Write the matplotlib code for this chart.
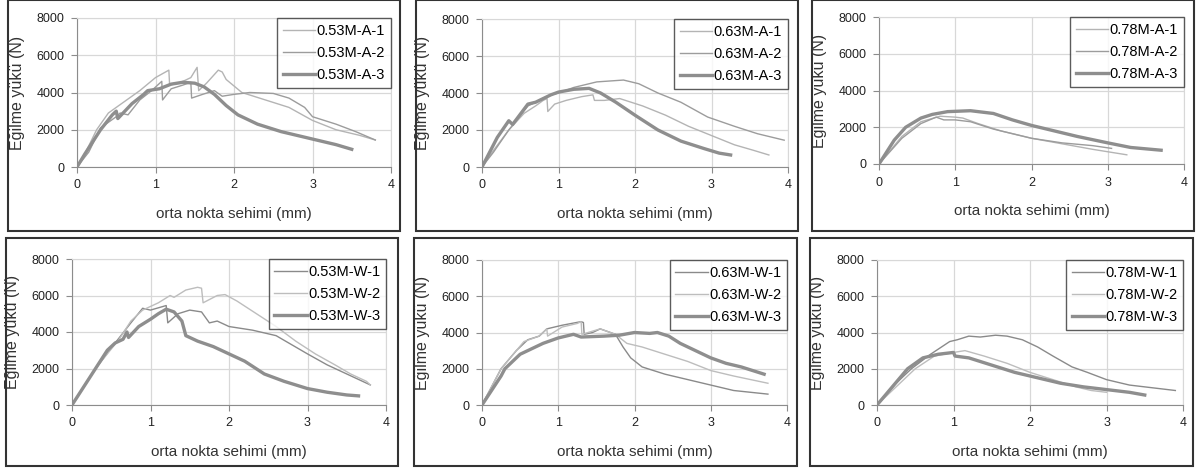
import matplotlib.pyplot as plt
from matplotlib.patches import Rectangle

plt.rcParams['font.family'] = ['Liberation Sans', 'DejaVu Sans']

W, H = 1197, 474

# --- 0.53M-A ---
a53_1_d = [0, 0.1, 0.25, 0.4, 0.6, 0.8, 1.0, 1.17, 1.18, 1.3, 1.45, 1.53, 1.55, 1.65, 1.8, 1.85, 1.9, 2.1, 2.4, 2.7, 3.0, 3.3, 3.6, 3.8]
a53_1_p = [0, 700, 2000, 2900, 3500, 4100, 4800, 5200, 4400, 4500, 4800, 5350, 4100, 4500, 5200, 5100, 4700, 4000, 3600, 3200, 2500, 2000, 1700, 1450]
a53_2_d = [0, 0.15, 0.3, 0.5, 0.55, 0.65, 0.8, 0.95, 1.08, 1.09, 1.2, 1.35, 1.45, 1.46, 1.6, 1.75, 1.85, 2.0, 2.2, 2.5, 2.7, 2.9, 3.0, 3.3, 3.55, 3.8]
a53_2_p = [0, 800, 2100, 2700, 2900, 2800, 3600, 4100, 4600, 3600, 4200, 4400, 4550, 3700, 3900, 4100, 3800, 3900, 4000, 3950, 3700, 3200, 2700, 2300, 1900, 1450]
a53_3_d = [0, 0.1, 0.3, 0.45, 0.5, 0.52, 0.7, 0.85, 0.9, 1.05, 1.2, 1.35, 1.5, 1.62, 1.75, 1.9, 2.05, 2.3, 2.6, 2.9, 3.1, 3.3, 3.5]
a53_3_p = [0, 700, 2000, 2800, 3000, 2600, 3400, 3900, 4100, 4200, 4450, 4550, 4500, 4300, 3900, 3300, 2800, 2300, 1900, 1600, 1400, 1200, 950]

# --- 0.63M-A ---
a63_1_d = [0, 0.15, 0.35, 0.55, 0.7, 0.8, 0.85, 0.86, 0.95, 1.1, 1.3, 1.45, 1.47, 1.6, 1.8, 2.1, 2.4, 2.7, 3.0, 3.3, 3.55, 3.75]
a63_1_p = [0, 900, 2000, 2900, 3300, 3600, 3700, 3000, 3400, 3600, 3800, 3900, 3600, 3600, 3700, 3300, 2800, 2200, 1700, 1200, 900, 650]
a63_2_d = [0, 0.15, 0.35, 0.6, 0.9, 1.0, 1.2, 1.5, 1.85, 2.05, 2.3, 2.6, 2.95, 3.3, 3.6, 3.95]
a63_2_p = [0, 800, 2000, 3300, 3900, 4000, 4300, 4600, 4700, 4500, 4000, 3500, 2700, 2200, 1800, 1450]
a63_3_d = [0, 0.2, 0.35, 0.4, 0.6, 0.7, 0.9, 1.0, 1.2, 1.4, 1.55, 1.75, 2.0, 2.3, 2.6, 2.9, 3.1, 3.25]
a63_3_p = [0, 1600, 2500, 2300, 3400, 3500, 3900, 4050, 4200, 4250, 4000, 3500, 2800, 2000, 1400, 1000, 750, 650]

# --- 0.78M-A ---
a78_1_d = [0, 0.3, 0.55, 0.8, 1.0, 1.1, 1.3, 1.6, 2.0, 2.4, 2.8, 3.1, 3.25]
a78_1_p = [0, 1500, 2300, 2600, 2550, 2500, 2200, 1800, 1400, 1100, 800, 600, 500]
a78_2_d = [0, 0.3, 0.55, 0.75, 0.85, 1.0, 1.2, 1.5, 2.0, 2.4, 2.8, 3.05]
a78_2_p = [0, 1400, 2200, 2550, 2400, 2400, 2300, 1900, 1400, 1150, 1000, 850]
a78_3_d = [0, 0.2, 0.35, 0.55, 0.7, 0.9, 1.2, 1.5, 1.75, 2.0, 2.3, 2.6, 3.0, 3.3, 3.7]
a78_3_p = [0, 1300, 2000, 2500, 2700, 2850, 2900, 2750, 2400, 2100, 1800, 1500, 1150, 900, 750]

# --- 0.53M-W ---
w53_1_d = [0, 0.3, 0.55, 0.75, 0.9, 1.0, 1.2, 1.22, 1.35, 1.5, 1.65, 1.75, 1.85, 2.0, 2.3, 2.6, 2.8, 3.0, 3.25, 3.5, 3.7, 3.8]
w53_1_p = [0, 2000, 3400, 4500, 5300, 5200, 5450, 4500, 5000, 5200, 5100, 4500, 4600, 4300, 4100, 3800, 3300, 2800, 2200, 1700, 1300, 1100]
w53_2_d = [0, 0.3, 0.6, 0.75, 0.9, 1.1, 1.25, 1.3, 1.45, 1.6, 1.65, 1.67, 1.85, 1.95, 2.1, 2.35, 2.6, 2.85, 3.1, 3.35, 3.55, 3.75, 3.8]
w53_2_p = [0, 2000, 3600, 4600, 5200, 5600, 6000, 5900, 6300, 6450, 6400, 5600, 6000, 6050, 5700, 5000, 4300, 3500, 2800, 2200, 1700, 1300, 1100]
w53_3_d = [0, 0.15, 0.3, 0.45, 0.55, 0.65, 0.7, 0.72, 0.85, 1.0, 1.1, 1.2, 1.3, 1.4, 1.45, 1.6, 1.8, 2.0, 2.2, 2.45, 2.7, 3.0, 3.25, 3.5, 3.65]
w53_3_p = [0, 1000, 2000, 3000, 3400, 3600, 4000, 3700, 4300, 4700, 5000, 5250, 5100, 4600, 3800, 3500, 3200, 2800, 2400, 1700, 1300, 900, 700, 550, 500]

# --- 0.63M-W ---
w63_1_d = [0, 0.25, 0.45, 0.6, 0.75, 0.85, 1.05, 1.3, 1.33, 1.34, 1.45, 1.55, 1.75, 1.85, 1.95, 2.1, 2.4, 2.7, 3.0, 3.3, 3.75]
w63_1_p = [0, 2000, 3000, 3600, 3800, 4200, 4400, 4600, 4550, 3900, 4000, 4200, 3900, 3200, 2600, 2100, 1700, 1400, 1100, 800, 600]
w63_2_d = [0, 0.25, 0.45, 0.55, 0.75, 0.85, 0.86, 1.05, 1.25, 1.3, 1.31, 1.55, 1.75, 1.9, 2.1, 2.4, 2.7, 3.0, 3.3, 3.75]
w63_2_p = [0, 2000, 3000, 3500, 3800, 4200, 3800, 4300, 4500, 4600, 3900, 4200, 3900, 3400, 3200, 2800, 2400, 1900, 1600, 1200]
w63_3_d = [0, 0.25, 0.3, 0.5, 0.6, 0.8, 1.0, 1.2, 1.3, 1.6, 1.8, 2.0, 2.2, 2.3, 2.45, 2.6, 2.8, 3.0, 3.2, 3.4, 3.7]
w63_3_p = [0, 1600, 2000, 2800, 3000, 3400, 3700, 3900, 3750, 3800, 3850, 4000, 3950, 4000, 3800, 3400, 3000, 2600, 2300, 2100, 1700]

# --- 0.78M-W ---
w78_1_d = [0, 0.25, 0.45, 0.7, 0.95, 1.05, 1.2, 1.35, 1.55, 1.7, 1.9, 2.1, 2.3, 2.55, 2.75, 3.0, 3.3, 3.6, 3.9]
w78_1_p = [0, 1200, 2000, 2800, 3500, 3600, 3800, 3750, 3850, 3800, 3600, 3200, 2700, 2100, 1800, 1400, 1100, 950, 800]
w78_2_d = [0, 0.25, 0.5, 0.75, 1.0, 1.15, 1.4, 1.7, 2.0, 2.3, 2.6, 2.8, 3.0]
w78_2_p = [0, 1000, 2000, 2700, 2900, 3000, 2700, 2300, 1800, 1400, 1000, 800, 700]
w78_3_d = [0, 0.2, 0.4, 0.6, 0.8, 1.0, 1.02, 1.2, 1.5, 1.8, 2.1, 2.4, 2.7, 3.0, 3.3, 3.5]
w78_3_p = [0, 1000, 2000, 2600, 2800, 2900, 2700, 2600, 2200, 1800, 1500, 1200, 1000, 850, 700, 550]

xlabel = 'orta nokta sehimi (mm)'
ylabel = 'Eğilme yükü (N)'

# line styles for specimen 1, 2, 3
a_styles = [dict(color='#b4b4b4', lw=1.0), dict(color='#9c9c9c', lw=1.0), dict(color='#8e8e8e', lw=2.4)]
w_styles = [dict(color='#8a8a8a', lw=1.0), dict(color='#bdbdbd', lw=1.0), dict(color='#8e8e8e', lw=2.4)]

# (series, labels, styles, axes rect px [l, r, t, b], frame px [l, r, t, b])
panels = [
    ([(a53_1_d, a53_1_p), (a53_2_d, a53_2_p), (a53_3_d, a53_3_p)],
     ['0.53M-A-1', '0.53M-A-2', '0.53M-A-3'], a_styles, [77, 391, 18, 167], [8, 400, 0, 231]),
    ([(a63_1_d, a63_1_p), (a63_2_d, a63_2_p), (a63_3_d, a63_3_p)],
     ['0.63M-A-1', '0.63M-A-2', '0.63M-A-3'], a_styles, [482, 788, 19, 167], [416, 798, 0, 231]),
    ([(a78_1_d, a78_1_p), (a78_2_d, a78_2_p), (a78_3_d, a78_3_p)],
     ['0.78M-A-1', '0.78M-A-2', '0.78M-A-3'], a_styles, [879, 1184, 17, 164], [812, 1194, 0, 231]),
    ([(w53_1_d, w53_1_p), (w53_2_d, w53_2_p), (w53_3_d, w53_3_p)],
     ['0.53M-W-1', '0.53M-W-2', '0.53M-W-3'], w_styles, [72, 386, 259, 405], [6, 398, 238, 466]),
    ([(w63_1_d, w63_1_p), (w63_2_d, w63_2_p), (w63_3_d, w63_3_p)],
     ['0.63M-W-1', '0.63M-W-2', '0.63M-W-3'], w_styles, [482, 787, 260, 405], [414, 797, 238, 466]),
    ([(w78_1_d, w78_1_p), (w78_2_d, w78_2_p), (w78_3_d, w78_3_p)],
     ['0.78M-W-1', '0.78M-W-2', '0.78M-W-3'], w_styles, [877, 1183, 260, 405], [810, 1193, 238, 466]),
]

fig = plt.figure(figsize=(W / 100, H / 100), dpi=100)

for series, labels, styles, (l, r, t, b), (fl, fr, ft, fb) in panels:
    # outer box around each chart
    fig.patches.append(Rectangle((fl / W, 1 - fb / H), (fr - fl) / W, (fb - ft) / H,
                                 transform=fig.transFigure, fill=False,
                                 edgecolor='#333333', lw=1.5))
    ax = fig.add_axes([l / W, 1 - b / H, (r - l) / W, (b - t) / H])
    for (d, p), lab, st in zip(series, labels, styles):
        ax.plot(d, p, label=lab, solid_joinstyle='round', **st)
    ax.set_xlim(0, 4)
    ax.set_ylim(0, 8000)
    ax.set_xticks([0, 1, 2, 3, 4])
    ax.set_yticks([0, 2000, 4000, 6000, 8000])
    ax.grid(True, color='#d8d8d8', lw=0.9)
    ax.set_axisbelow(True)
    for s in ['top', 'right']:
        ax.spines[s].set_color('#d8d8d8')
    for s in ['left', 'bottom']:
        ax.spines[s].set_color('#8c8c8c')
    ax.tick_params(direction='out', length=4, width=0.8, color='#8c8c8c',
                   labelsize=9, labelcolor='#222222', pad=5)
    ax.set_xlabel(xlabel, fontsize=11, color='#333333', labelpad=11)
    ax.set_ylabel(ylabel, fontsize=11.5, color='#333333', labelpad=8.5)
    leg = ax.legend(loc='upper right', bbox_to_anchor=(1.0, 1.0), borderaxespad=0,
                    fontsize=10.5, frameon=True, fancybox=False, handlelength=2.2,
                    handletextpad=0.1, labelspacing=0.55, borderpad=0.4)
    leg.get_frame().set_edgecolor('#333333')
    leg.get_frame().set_linewidth(1.0)

fig.savefig('out.png', dpi=100)
